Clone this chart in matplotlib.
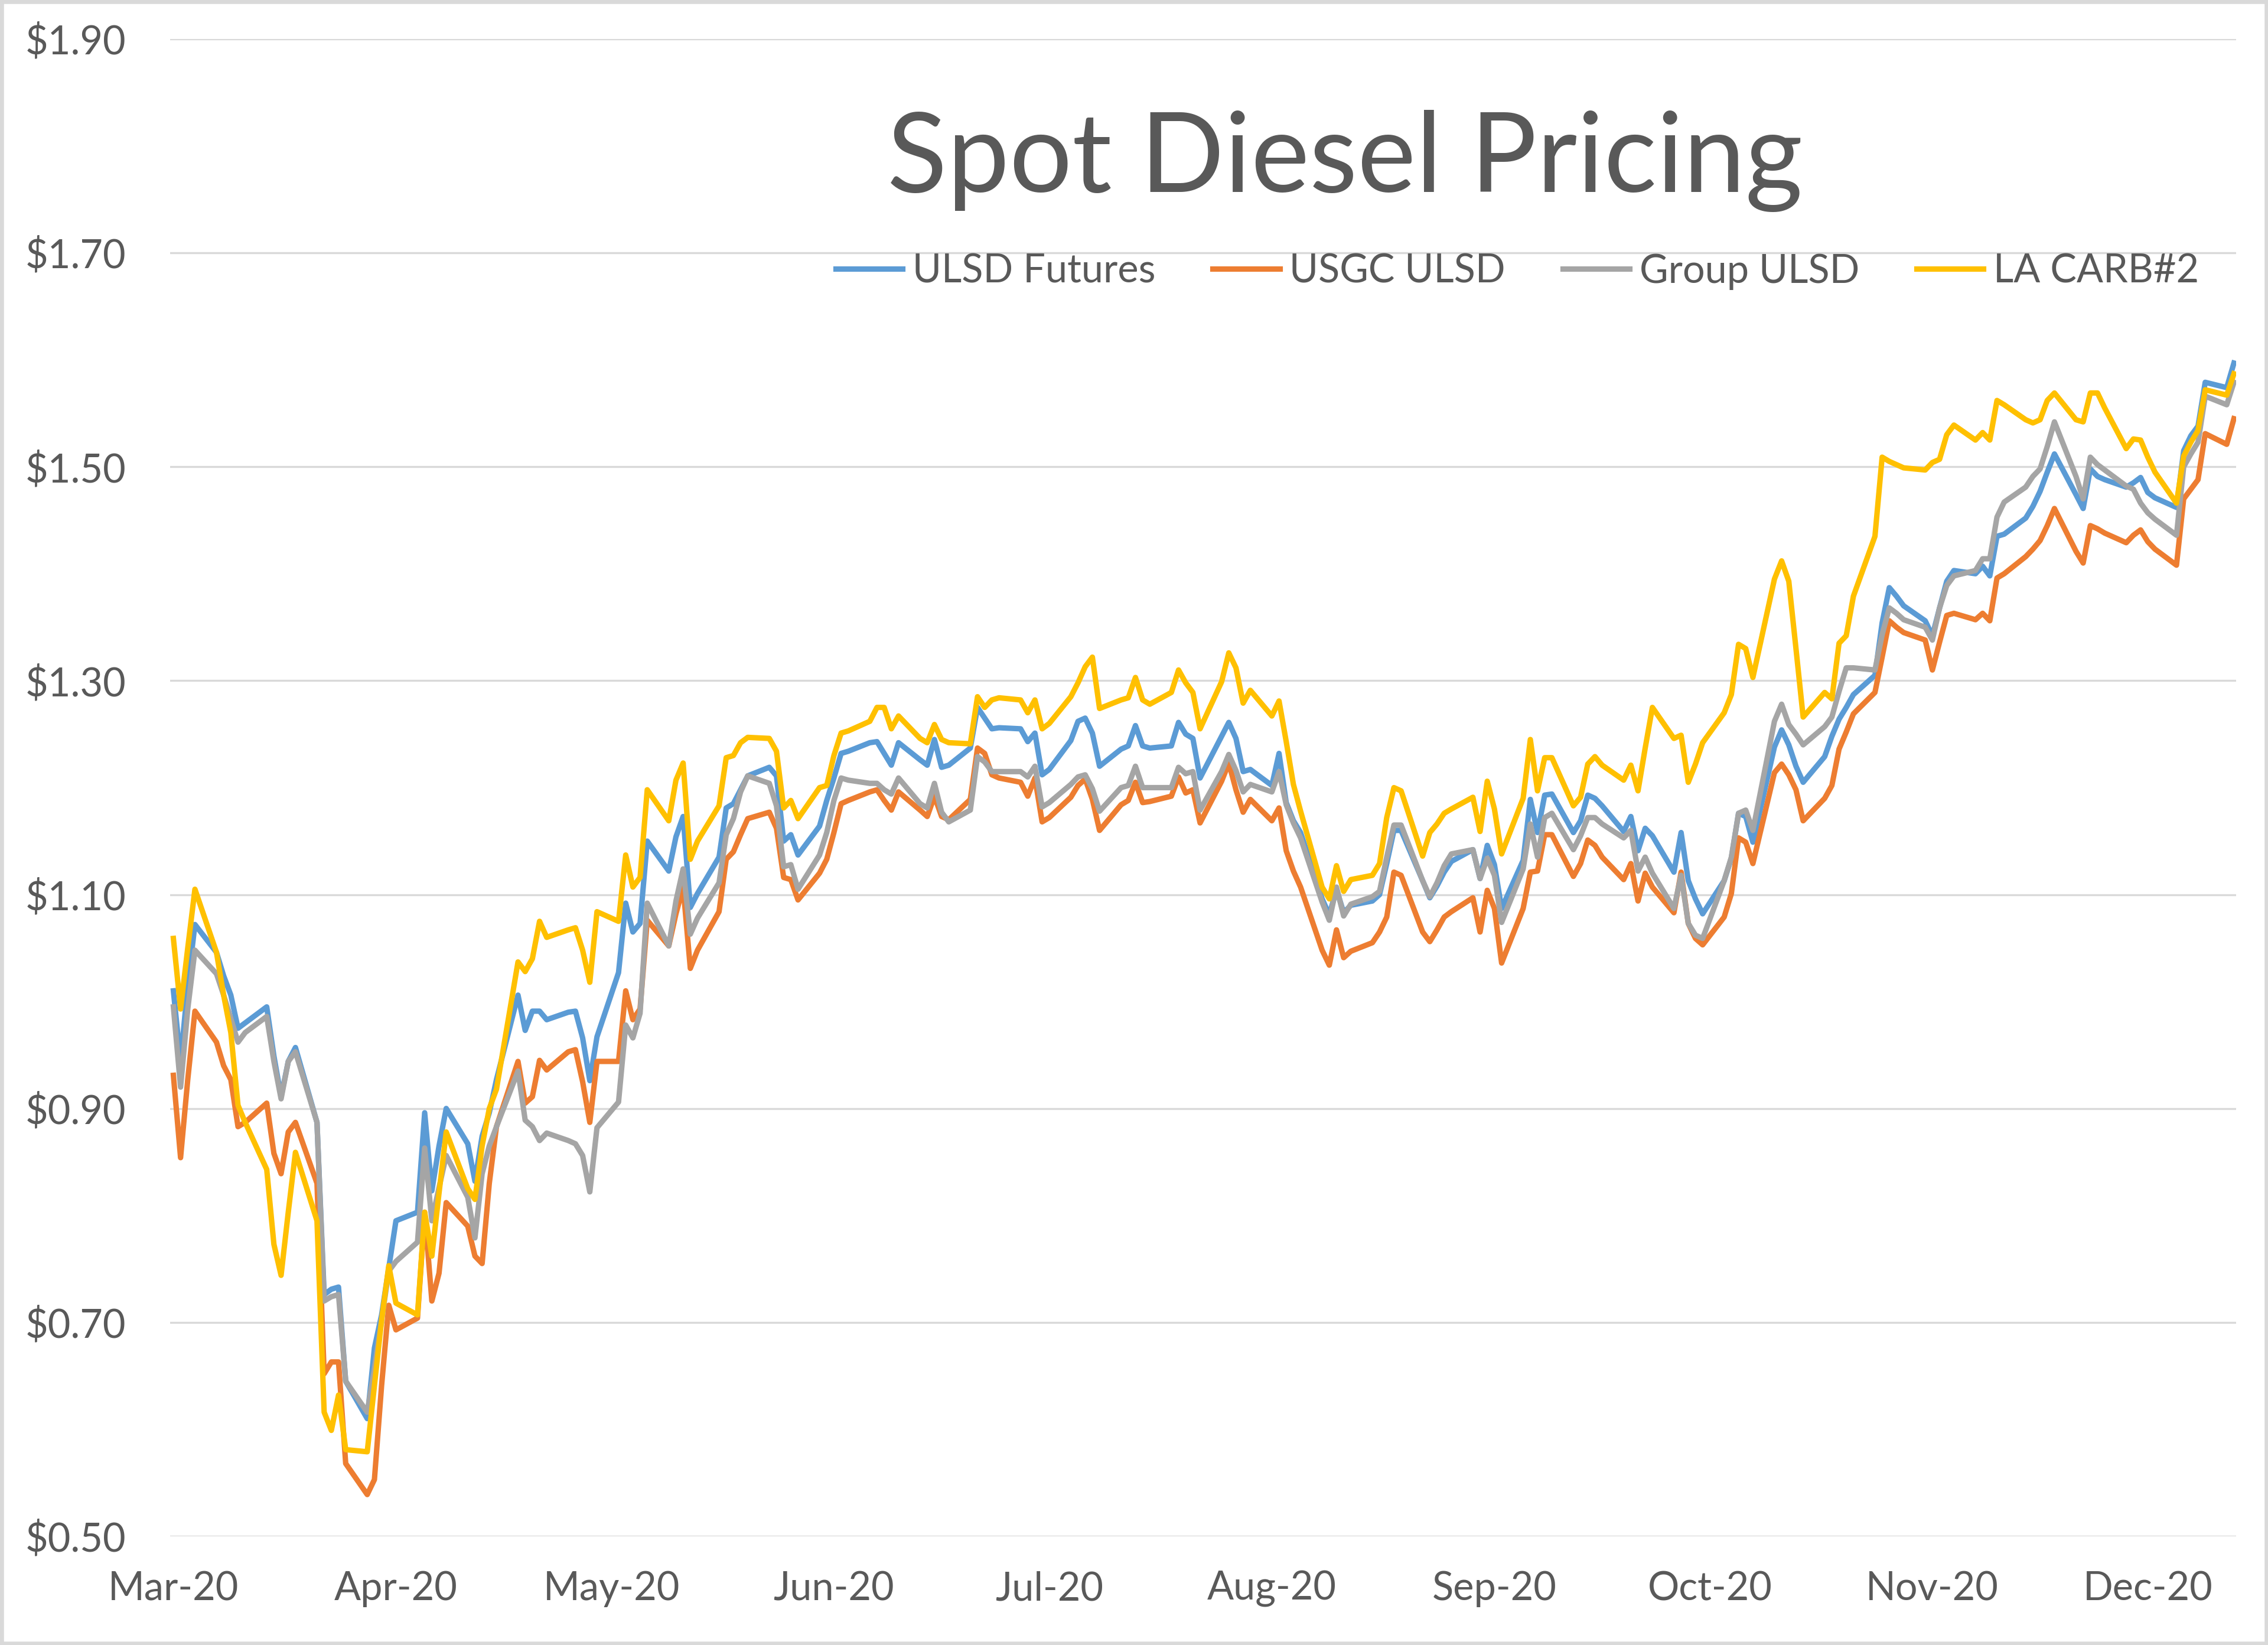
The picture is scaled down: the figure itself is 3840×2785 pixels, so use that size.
import pandas as pd
import matplotlib
matplotlib.use("Agg")
import matplotlib.pyplot as plt
from matplotlib.patches import Rectangle
import matplotlib.ticker as mticker

# weekdays from 3 Mar to 15 Dec 2020
dates = pd.bdate_range("2020-03-03", "2020-12-15")

ulsd_futures = [
    1.010, 0.944, 1.015, 1.072,
    1.046, 1.024, 1.006, 0.975, 0.980,
    0.995, 0.949, 0.911, 0.944, 0.957,
    0.887, 0.726, 0.731, 0.733, 0.645,
    0.610, 0.676, 0.707, 0.751, 0.795,
    0.803, 0.896, 0.823, 0.865, 0.900,
    0.867, 0.832, 0.874, 0.896, 0.927,
    1.006, 0.973, 0.991, 0.991, 0.983,
    0.990, 0.991, 0.966, 0.926, 0.967,
    1.027, 1.092, 1.065, 1.073, 1.150,
    1.122, 1.154, 1.173, 1.088, 1.101,
    1.135, 1.181, 1.185, 1.198, 1.211,
    1.219, 1.211, 1.150, 1.156, 1.137,
    1.164, 1.188, 1.209, 1.232, 1.234,
    1.242, 1.243, 1.232, 1.221, 1.242,
    1.226, 1.221, 1.245, 1.219, 1.221,
    1.237, 1.275, 1.265, 1.255, 1.256,
    1.255, 1.243, 1.251, 1.212, 1.217,
    1.244, 1.262, 1.265, 1.251, 1.220,
    1.236, 1.239, 1.258, 1.239, 1.237,
    1.239, 1.261, 1.250, 1.246, 1.209,
    1.248, 1.261, 1.246, 1.215, 1.217,
    1.202, 1.232, 1.186, 1.169, 1.158,
    1.096, 1.081, 1.105, 1.083, 1.090,
    1.094, 1.100, 1.129, 1.160, 1.160,
    1.113, 1.097, 1.108, 1.121, 1.131,
    1.142, 1.115, 1.146, 1.128, 1.087,
    1.132, 1.189, 1.158, 1.193, 1.194,
    1.158, 1.169, 1.193, 1.190, 1.183,
    1.159, 1.173, 1.141, 1.162, 1.155,
    1.121, 1.158, 1.113, 1.096, 1.082,
    1.113, 1.134, 1.176, 1.173, 1.149,
    1.238, 1.254, 1.240, 1.220, 1.205,
    1.229, 1.248, 1.264, 1.275, 1.287,
    1.305, 1.354, 1.387, 1.379, 1.370,
    1.356, 1.342, 1.368, 1.393, 1.403,
    1.400, 1.407, 1.398, 1.435, 1.437,
    1.452, 1.463, 1.477, 1.495, 1.512,
    1.474, 1.461, 1.498, 1.491, 1.488,
    1.481, 1.485, 1.490, 1.476, 1.471,
    1.462, 1.515, 1.529, 1.538, 1.579,
    1.574, 1.597,
]

usgc_ulsd = [
    0.931, 0.854, 0.927, 0.991,
    0.962, 0.940, 0.927, 0.883, 0.887,
    0.905, 0.858, 0.839, 0.878, 0.887,
    0.830, 0.652, 0.663, 0.663, 0.568,
    0.539, 0.553, 0.641, 0.716, 0.693,
    0.704, 0.803, 0.720, 0.746, 0.812,
    0.790, 0.762, 0.755, 0.830, 0.883,
    0.944, 0.905, 0.911, 0.945, 0.936,
    0.953, 0.955, 0.925, 0.887, 0.944,
    0.944, 1.010, 0.983, 0.993, 1.076,
    1.052, 1.082, 1.107, 1.031, 1.048,
    1.084, 1.133, 1.140, 1.156, 1.171,
    1.177, 1.162, 1.116, 1.114, 1.095,
    1.120, 1.133, 1.158, 1.185, 1.188,
    1.196, 1.198, 1.188, 1.179, 1.196,
    1.179, 1.173, 1.192, 1.173, 1.170,
    1.189, 1.237, 1.232, 1.212, 1.209,
    1.205, 1.192, 1.209, 1.168, 1.172,
    1.191, 1.202, 1.208, 1.189, 1.160,
    1.184, 1.188, 1.205, 1.186, 1.187,
    1.192, 1.210, 1.195, 1.198, 1.167,
    1.206, 1.223, 1.198, 1.177, 1.189,
    1.169, 1.181, 1.141, 1.122, 1.107,
    1.048, 1.034, 1.067, 1.041, 1.047,
    1.055, 1.065, 1.079, 1.121, 1.118,
    1.065, 1.056, 1.067, 1.079, 1.084,
    1.097, 1.065, 1.104, 1.087, 1.036,
    1.087, 1.121, 1.122, 1.156, 1.156,
    1.117, 1.129, 1.151, 1.146, 1.135,
    1.114, 1.129, 1.094, 1.120, 1.107,
    1.083, 1.121, 1.073, 1.059, 1.053,
    1.079, 1.101, 1.153, 1.149, 1.129,
    1.214, 1.222, 1.212, 1.198, 1.169,
    1.190, 1.202, 1.236, 1.252, 1.269,
    1.289, 1.322, 1.356, 1.350, 1.345,
    1.338, 1.310, 1.336, 1.361, 1.363,
    1.357, 1.363, 1.356, 1.396, 1.400,
    1.416, 1.423, 1.431, 1.445, 1.461,
    1.421, 1.410, 1.445, 1.442, 1.438,
    1.429, 1.436, 1.441, 1.430, 1.423,
    1.408, 1.470, 1.479, 1.488, 1.531,
    1.521, 1.545,
]

group_ulsd = [
    0.995, 0.920, 0.993, 1.048,
    1.026, 1.006, 0.984, 0.962, 0.971,
    0.986, 0.944, 0.909, 0.944, 0.953,
    0.887, 0.720, 0.724, 0.726, 0.645,
    0.616, 0.656, 0.702, 0.748, 0.757,
    0.775, 0.863, 0.795, 0.826, 0.856,
    0.817, 0.779, 0.839, 0.865, 0.883,
    0.935, 0.889, 0.883, 0.870, 0.877,
    0.870, 0.867, 0.856, 0.822, 0.882,
    0.906, 0.978, 0.966, 0.989, 1.092,
    1.052, 1.094, 1.124, 1.063, 1.078,
    1.111, 1.156, 1.171, 1.196, 1.211,
    1.204, 1.183, 1.126, 1.128, 1.105,
    1.137, 1.158, 1.188, 1.209, 1.207,
    1.204, 1.204, 1.198, 1.194, 1.209,
    1.185, 1.181, 1.204, 1.177, 1.168,
    1.179, 1.229, 1.224, 1.215, 1.215,
    1.215, 1.210, 1.220, 1.182, 1.186,
    1.203, 1.210, 1.212, 1.199, 1.178,
    1.200, 1.202, 1.220, 1.200, 1.200,
    1.200, 1.219, 1.213, 1.215, 1.179,
    1.215, 1.231, 1.216, 1.196, 1.203,
    1.196, 1.215, 1.184, 1.167, 1.153,
    1.093, 1.076, 1.107, 1.080, 1.091,
    1.098, 1.103, 1.135, 1.165, 1.165,
    1.113, 1.098, 1.111, 1.127, 1.138,
    1.142, 1.115, 1.134, 1.118, 1.074,
    1.124, 1.166, 1.135, 1.172, 1.176,
    1.142, 1.155, 1.172, 1.172, 1.166,
    1.153, 1.160, 1.122, 1.135, 1.120,
    1.087, 1.118, 1.073, 1.062, 1.059,
    1.113, 1.135, 1.176, 1.179, 1.160,
    1.262, 1.278, 1.259, 1.250, 1.240,
    1.257, 1.266, 1.290, 1.312, 1.312,
    1.310, 1.343, 1.368, 1.363, 1.357,
    1.350, 1.338, 1.368, 1.389, 1.398,
    1.403, 1.414, 1.414, 1.453, 1.467,
    1.481, 1.491, 1.498, 1.519, 1.542,
    1.491, 1.470, 1.509, 1.502, 1.497,
    1.482, 1.479, 1.466, 1.457, 1.451,
    1.436, 1.500, 1.512, 1.523, 1.566,
    1.558, 1.579,
]

la_carb2 = [
    1.059, 0.993, 1.050, 1.105,
    1.046, 1.006, 0.971, 0.903, 0.887,
    0.843, 0.773, 0.744, 0.803, 0.859,
    0.795, 0.616, 0.599, 0.632, 0.581,
    0.579, 0.641, 0.702, 0.753, 0.718,
    0.707, 0.803, 0.762, 0.821, 0.878,
    0.825, 0.815, 0.865, 0.900, 0.918,
    1.037, 1.028, 1.040, 1.075, 1.060,
    1.067, 1.069, 1.048, 1.018, 1.084,
    1.075, 1.137, 1.107, 1.116, 1.198,
    1.169, 1.207, 1.223, 1.133, 1.150,
    1.183, 1.228, 1.230, 1.242, 1.247,
    1.246, 1.234, 1.181, 1.188, 1.171,
    1.200, 1.202, 1.230, 1.251, 1.253,
    1.262, 1.275, 1.275, 1.255, 1.267,
    1.246, 1.242, 1.259, 1.245, 1.242,
    1.241, 1.285, 1.275, 1.282, 1.284,
    1.282, 1.270, 1.282, 1.255, 1.260,
    1.285, 1.298, 1.313, 1.322, 1.274,
    1.282, 1.284, 1.303, 1.282, 1.278,
    1.289, 1.310, 1.298, 1.289, 1.255,
    1.299, 1.326, 1.312, 1.279, 1.291,
    1.267, 1.281, 1.243, 1.203, 1.178,
    1.107, 1.096, 1.127, 1.103, 1.114,
    1.118, 1.129, 1.172, 1.200, 1.197,
    1.136, 1.158, 1.166, 1.176, 1.180,
    1.191, 1.159, 1.206, 1.180, 1.138,
    1.190, 1.245, 1.197, 1.228, 1.228,
    1.183, 1.191, 1.222, 1.229, 1.221,
    1.207, 1.221, 1.197, 1.237, 1.275,
    1.246, 1.249, 1.205, 1.222, 1.242,
    1.270, 1.287, 1.334, 1.330, 1.303,
    1.395, 1.412, 1.393, 1.330, 1.266,
    1.289, 1.283, 1.335, 1.342, 1.379,
    1.435, 1.509, 1.505, 1.502, 1.499,
    1.497, 1.504, 1.507, 1.530, 1.539,
    1.525, 1.532, 1.525, 1.562, 1.558,
    1.544, 1.541, 1.544, 1.562, 1.569,
    1.544, 1.542, 1.569, 1.569, 1.555,
    1.517, 1.526, 1.525, 1.509, 1.495,
    1.466, 1.510, 1.523, 1.534, 1.572,
    1.567, 1.587,
]

series_names = ["ULSD Futures", "USGC ULSD", "Group ULSD", "LA CARB#2"]
colors = ["#5B9BD5", "#ED7D31", "#A5A5A5", "#FFC000"]
month_labels = ["Mar-20", "Apr-20", "May-20", "Jun-20", "Jul-20",
                "Aug-20", "Sep-20", "Oct-20", "Nov-20", "Dec-20"]
month_ticks = pd.date_range("2020-03-03", periods=10, freq=pd.DateOffset(months=1))
yticks = [0.50, 0.70, 0.90, 1.10, 1.30, 1.50, 1.70, 1.90]

plt.rcParams['font.family'] = ['Lato', 'DejaVu Sans']
text_col = "#595959"

fig = plt.figure(figsize=(3840 / 300, 2785 / 300), dpi=300, facecolor="white")
ax = fig.add_axes([0.075, 0.0661, 0.9109, 0.9102])

for vals, name, c in zip([ulsd_futures, usgc_ulsd, group_ulsd, la_carb2], series_names, colors):
    ax.plot(dates, vals, color=c, lw=2.2, label=name, solid_joinstyle="round")

ax.set_xlim(dates[0] - pd.Timedelta(hours=11), dates[-1] + pd.Timedelta(hours=7))
ax.set_ylim(0.5, 1.9)
ax.set_yticks(yticks)
ax.yaxis.set_major_formatter(mticker.FuncFormatter(lambda v, p: "${:.2f}".format(v)))
ax.set_xticks(month_ticks)
ax.set_xticklabels(month_labels)
ax.yaxis.grid(True, color="#D9D9D9", lw=0.8)
ax.set_axisbelow(True)
for s in ax.spines.values():
    s.set_visible(False)
ax.tick_params(axis="both", length=0, labelsize=16, labelcolor=text_col)
ax.tick_params(axis="y", pad=18)
ax.tick_params(axis="x", pad=14)

fig.text(0.593, 0.8833, "Spot Diesel Pricing", ha="center", va="baseline",
         fontsize=45, color=text_col, fontweight="normal")

fig.legend(loc="center", bbox_to_anchor=(0.669, 0.835), ncol=4, frameon=False,
           fontsize=16, handlelength=1.7, handletextpad=0.25, columnspacing=1.45,
           labelcolor=text_col)

fig.add_artist(Rectangle((0, 0), 1, 1, transform=fig.transFigure, fill=False,
                         ec="#D9D9D9", lw=3))

fig.savefig("out.png", dpi=300, facecolor="white")
